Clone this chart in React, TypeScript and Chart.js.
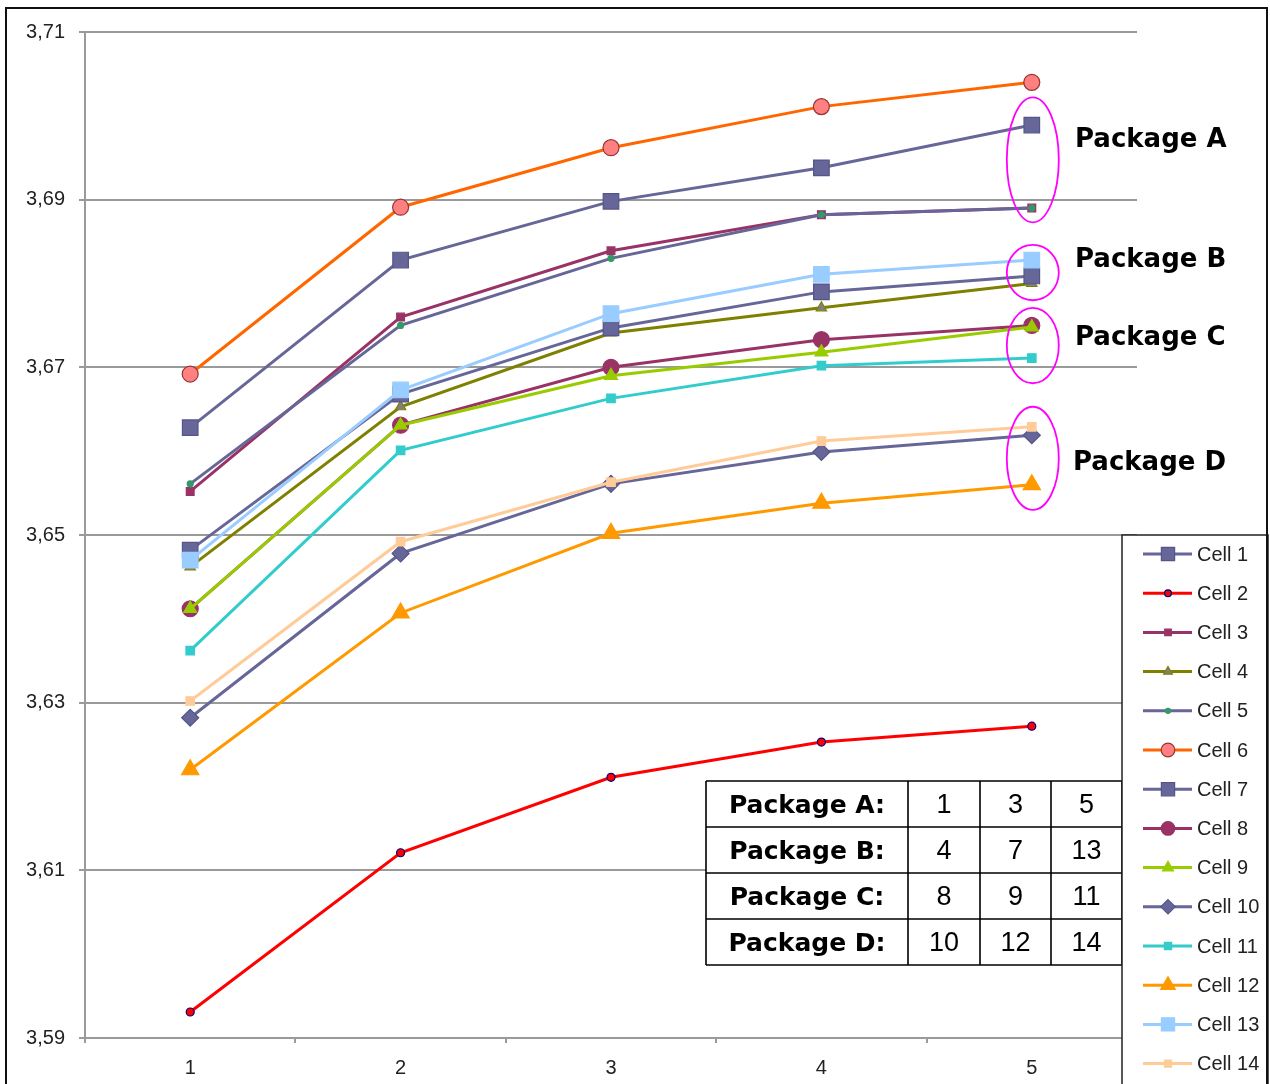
import React, { useEffect, useRef } from 'react';
import { Chart, registerables } from 'chart.js';

Chart.register(...registerables);

const categories = ['1', '2', '3', '4', '5'];

const cell1 = [3.6628, 3.6828, 3.6898, 3.6938, 3.6989];
const cell2 = [3.5931, 3.6121, 3.6211, 3.6253, 3.6272];
const cell3 = [3.6552, 3.676, 3.6839, 3.6882, 3.689];
const cell4 = [3.6462, 3.6653, 3.6741, 3.6771, 3.68];
const cell5 = [3.6561, 3.675, 3.683, 3.6882, 3.689];
const cell6 = [3.6692, 3.6891, 3.6962, 3.7011, 3.704];
const cell7 = [3.6482, 3.6668, 3.6747, 3.679, 3.6809];
const cell8 = [3.6412, 3.6631, 3.67, 3.6733, 3.675];
const cell9 = [3.6412, 3.6631, 3.669, 3.6718, 3.6748];
const cell10 = [3.6282, 3.6478, 3.6561, 3.6599, 3.6619];
const cell11 = [3.6362, 3.6601, 3.6663, 3.6702, 3.6711];
const cell12 = [3.622, 3.6407, 3.6502, 3.6538, 3.656];
const cell13 = [3.647, 3.6673, 3.6764, 3.6811, 3.6828];
const cell14 = [3.6302, 3.6492, 3.6563, 3.6612, 3.6629];

const seriesNames = ['Cell 1', 'Cell 2', 'Cell 3', 'Cell 4', 'Cell 5', 'Cell 6', 'Cell 7', 'Cell 8', 'Cell 9', 'Cell 10', 'Cell 11', 'Cell 12', 'Cell 13', 'Cell 14'];
const seriesValues = [cell1, cell2, cell3, cell4, cell5, cell6, cell7, cell8, cell9, cell10, cell11, cell12, cell13, cell14];
const lineColors = ['#666699', '#FF0000', '#993366', '#808000', '#666699', '#FF6600', '#666699', '#993366', '#99CC00', '#666699', '#33CCCC', '#FF9900', '#99CCFF', '#FFCC99'];
const markerStyles = ['rect', 'circle', 'rect', 'triangle', 'circle', 'circle', 'rect', 'circle', 'triangle', 'rectRot', 'rect', 'triangle', 'rect', 'rect'];
const markerRadius = [11, 4, 5.5, 6, 3, 8, 11, 8, 7.5, 8.5, 6, 10, 11, 6];
const markerFill = ['#666699', '#FF0000', '#993366', '#808080', '#339966', '#FF8080', '#666699', '#993366', '#99CC00', '#666699', '#33CCCC', '#FF9900', '#99CCFF', '#FFCC99'];
const markerBorder = ['#55558a', '#000080', '#993366', '#808000', '#339966', '#993333', '#55558a', '#993366', '#99CC00', '#55558a', '#33CCCC', '#FF9900', '#99CCFF', '#FFCC99'];

const yMin = 3.59;
const yMax = 3.71;
const yStep = 0.02;

const packageLabels = ['Package A', 'Package B', 'Package C', 'Package D'];
const packageEllipseTop = [3.7022, 3.6846, 3.6771, 3.6653];
const packageEllipseBottom = [3.6873, 3.678, 3.6681, 3.653];

const tableRows = ['Package A:', 'Package B:', 'Package C:', 'Package D:'];
const tableCells = [
  ['1', '3', '5'],
  ['4', '7', '13'],
  ['8', '9', '11'],
  ['10', '12', '14'],
];

function drawMarker(ctx: CanvasRenderingContext2D, style: string, x: number, y: number, r: number, fill: string, stroke: string) {
  ctx.beginPath();
  if (style === 'circle') {
    ctx.arc(x, y, r, 0, Math.PI * 2);
  } else if (style === 'rect') {
    const s = r * Math.SQRT1_2;
    ctx.rect(x - s, y - s, 2 * s, 2 * s);
  } else if (style === 'rectRot') {
    ctx.moveTo(x, y - r);
    ctx.lineTo(x + r, y);
    ctx.lineTo(x, y + r);
    ctx.lineTo(x - r, y);
    ctx.closePath();
  } else if (style === 'triangle') {
    let rad = 0;
    ctx.moveTo(x + Math.sin(rad) * r, y - Math.cos(rad) * r);
    rad += (2 * Math.PI) / 3;
    ctx.lineTo(x + Math.sin(rad) * r, y - Math.cos(rad) * r);
    rad += (2 * Math.PI) / 3;
    ctx.lineTo(x + Math.sin(rad) * r, y - Math.cos(rad) * r);
    ctx.closePath();
  }
  ctx.fillStyle = fill;
  ctx.fill();
  ctx.strokeStyle = stroke;
  ctx.lineWidth = 1.2;
  ctx.stroke();
}

const overlayPlugin = {
  id: 'overlay',
  afterDraw(chart: any) {
    const ctx: CanvasRenderingContext2D = chart.ctx;
    const xs = chart.scales.x;
    const ys = chart.scales.y;
    ctx.save();

    // ellipses around the last points
    const cx = xs.getPixelForValue(4) + 1;
    ctx.strokeStyle = '#FF00FF';
    ctx.lineWidth = 1.8;
    for (let i = 0; i < packageLabels.length; i++) {
      const top = ys.getPixelForValue(packageEllipseTop[i]);
      const bot = ys.getPixelForValue(packageEllipseBottom[i]);
      ctx.beginPath();
      ctx.ellipse(cx, (top + bot) / 2, 26, (bot - top) / 2, 0, 0, Math.PI * 2);
      ctx.stroke();
    }

    // package labels
    const labelY = [140, 260, 338, 463];
    const labelX = [1075, 1075, 1075, 1073];
    ctx.font = 'bold 26px "DejaVu Sans"';
    ctx.textBaseline = 'middle';
    ctx.textAlign = 'left';
    ctx.fillStyle = '#000';
    for (let i = 0; i < packageLabels.length; i++) {
      ctx.fillText(packageLabels[i], labelX[i], labelY[i]);
    }

    // table
    const tX = [706, 908, 980, 1051, 1122];
    const tY = [781, 827, 873, 919, 965];
    ctx.fillStyle = '#fff';
    ctx.fillRect(tX[0], tY[0], tX[4] - tX[0], tY[4] - tY[0]);
    ctx.strokeStyle = '#000';
    ctx.lineWidth = 1.6;
    ctx.beginPath();
    for (const x of tX) { ctx.moveTo(x, tY[0]); ctx.lineTo(x, tY[4]); }
    for (const y of tY) { ctx.moveTo(tX[0], y); ctx.lineTo(tX[4], y); }
    ctx.stroke();
    ctx.textAlign = 'center';
    ctx.fillStyle = '#000';
    for (let r = 0; r < tableRows.length; r++) {
      const cy = (tY[r] + tY[r + 1]) / 2 + 2;
      ctx.font = 'bold 25px "DejaVu Sans"';
      ctx.fillText(tableRows[r], (tX[0] + tX[1]) / 2, cy);
      ctx.font = '27px "Liberation Sans"';
      for (let c = 0; c < 3; c++) {
        ctx.fillText(tableCells[r][c], (tX[c + 1] + tX[c + 2]) / 2, cy);
      }
    }

    // legend
    const lx = 1122;
    const ly = 535;
    ctx.fillStyle = '#fff';
    ctx.fillRect(lx, ly, 1268 - lx, 1090 - ly);
    ctx.strokeStyle = '#222';
    ctx.lineWidth = 1.5;
    ctx.strokeRect(lx, ly, 1268 - lx, 1090 - ly);
    ctx.font = '20px "Liberation Sans"';
    ctx.textAlign = 'left';
    ctx.textBaseline = 'middle';
    for (let i = 0; i < seriesNames.length; i++) {
      const y = 554 + i * 39.2;
      ctx.strokeStyle = lineColors[i];
      ctx.lineWidth = 3;
      ctx.beginPath();
      ctx.moveTo(1143, y);
      ctx.lineTo(1192, y);
      ctx.stroke();
      drawMarker(ctx, markerStyles[i], 1168, y, markerRadius[i] * 0.85, markerFill[i], markerBorder[i]);
      ctx.fillStyle = '#222';
      ctx.fillText(seriesNames[i], 1197, y + 1);
    }

    // outer frame
    ctx.strokeStyle = '#111';
    ctx.lineWidth = 2;
    ctx.strokeRect(6, 8, 1261, 1100);
    ctx.restore();
  },
};

export default function App() {
  const canvasRef = useRef<HTMLCanvasElement | null>(null);

  useEffect(() => {
    if (!canvasRef.current) return;
    const datasets = seriesValues.map((vals, i) => ({
      label: seriesNames[i],
      data: vals,
      borderColor: lineColors[i],
      backgroundColor: markerFill[i],
      borderWidth: 3,
      pointStyle: markerStyles[i] as any,
      pointRadius: markerRadius[i],
      pointBackgroundColor: markerFill[i],
      pointBorderColor: markerBorder[i],
      pointBorderWidth: 1.2,
      tension: 0,
      fill: false,
      order: 15 - i,
    }));
    const chart = new Chart(canvasRef.current, {
      type: 'line',
      data: { labels: categories, datasets },
      options: {
        animation: false,
        responsive: false,
        devicePixelRatio: 1,
        layout: { padding: { left: 0, top: 32, right: 133, bottom: 0 } },
        plugins: { legend: { display: false }, tooltip: { enabled: false } },
        scales: {
          x: {
            offset: true,
            grid: { display: true, drawOnChartArea: false, drawTicks: true, tickLength: 5, color: '#9a9a9a', lineWidth: 2, offset: true },
            border: { display: true, color: '#9a9a9a', width: 2 },
            ticks: { color: '#222', font: { family: 'Liberation Sans', size: 20 }, padding: 13, maxRotation: 0 },
            afterFit: (s: any) => { s.height = 46; },
          },
          y: {
            min: yMin,
            max: yMax,
            grid: { color: '#9a9a9a', lineWidth: 2, drawTicks: true, tickLength: 6 },
            border: { display: true, color: '#9a9a9a', width: 2 },
            ticks: {
              stepSize: yStep,
              color: '#222',
              font: { family: 'Liberation Sans', size: 20 },
              padding: 14,
              callback: (v: any) => Number(v).toFixed(2).replace('.', ','),
            },
            afterFit: (s: any) => { s.width = 85; },
          },
        },
      },
      plugins: [overlayPlugin],
    });
    return () => chart.destroy();
  }, []);

  return (
    <div style={{ position: 'fixed', left: 0, top: 0, width: 1270, height: 1084, background: '#fff' }}>
      <canvas ref={canvasRef} width={1270} height={1084} style={{ display: 'block', width: 1270, height: 1084 }} />
    </div>
  );
}
